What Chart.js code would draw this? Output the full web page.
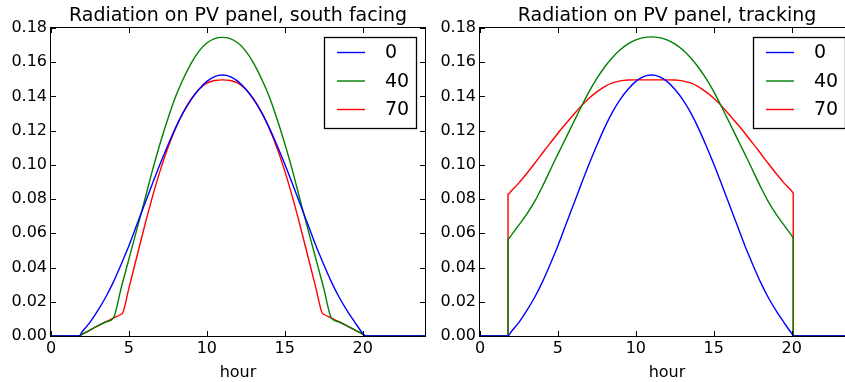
<!DOCTYPE html>
<html>
<head>
<meta charset="utf-8">
<script src="https://cdn.jsdelivr.net/npm/chart.js@4.4.1/dist/chart.umd.min.js"></script>
<style>
  html, body { margin: 0; padding: 0; background: #fff; }
  body { width: 845px; height: 382px; overflow: hidden; position: relative; }
  canvas { position: absolute; top: 0; }
  #south { left: 0; }
  #track { left: 429px; }
</style>
</head>
<body>
<canvas id="south" width="440" height="382"></canvas>
<canvas id="track" width="440" height="382"></canvas>
<script>
// hour of day (x); sunrise / sunset hours appear twice so the tracking curves jump straight up
const hours = [0, 1.8, 1.8, 2, 2.5, 3, 3.5, 4, 4.5, 4.6, 5, 5.5, 6, 6.5, 7, 7.5, 8, 8.5, 9, 9.5, 10, 10.5, 11,
  11.5, 12, 12.5, 13, 13.5, 14, 14.5, 15, 15.5, 16, 16.5, 17, 17.4, 17.5, 18, 18.5, 19, 19.5, 20, 20.1, 20.1, 24];

const tilts = ['0', '40', '70'];
const colors = ['#0000ff', '#008000', '#ff0000'];

// tilt 0 (same on both panels)
const flat0 = [0, 0, 0, 0.0025, 0.008, 0.0148, 0.0225, 0.0315, 0.0418, 0.044, 0.0528, 0.0648, 0.0768, 0.0888, 0.1005, 0.1115, 0.1218, 0.1308, 0.1383, 0.1442, 0.1488, 0.1516, 0.1525,
  0.1516, 0.1488, 0.1442, 0.1383, 0.1308, 0.1218, 0.1115, 0.1005, 0.0888, 0.0768, 0.0648, 0.0528, 0.044, 0.0418, 0.0315, 0.0225, 0.0148, 0.008, 0.0015, 0.0004, 0, 0];

// south facing
const south40 = [0, 0, 0, 0.0010, 0.0035, 0.0059, 0.0082, 0.0104, 0.028, 0.0314, 0.045, 0.062, 0.079, 0.0965, 0.1125, 0.127, 0.140, 0.1505, 0.1595, 0.1665, 0.1712, 0.1738, 0.1745,
  0.1738, 0.1712, 0.1665, 0.1595, 0.1505, 0.140, 0.127, 0.1125, 0.0965, 0.079, 0.062, 0.045, 0.0314, 0.028, 0.0104, 0.0082, 0.0059, 0.0035, 0.0011, 0.0004, 0, 0];
const south70 = [0, 0, 0, 0.0010, 0.0035, 0.0059, 0.0082, 0.0104, 0.0127, 0.0134, 0.028, 0.046, 0.064, 0.081, 0.0965, 0.110, 0.1215, 0.131, 0.1385, 0.1442, 0.1478, 0.1493, 0.1497,
  0.1493, 0.1478, 0.1442, 0.1385, 0.131, 0.1215, 0.110, 0.0965, 0.081, 0.064, 0.046, 0.028, 0.0134, 0.0127, 0.0104, 0.0082, 0.0059, 0.0035, 0.0011, 0.0004, 0, 0];

// tracking
const track40 = [0, 0, 0.0565, 0.0588, 0.0649, 0.0712, 0.0785, 0.0873, 0.0968, 0.0988, 0.1063, 0.1155, 0.1248, 0.134, 0.1428, 0.1505, 0.1572, 0.1628, 0.1673, 0.1707, 0.1731, 0.1744, 0.1748,
  0.1744, 0.1731, 0.1707, 0.1673, 0.1628, 0.1572, 0.1505, 0.1428, 0.134, 0.1248, 0.1155, 0.1063, 0.0988, 0.0968, 0.0873, 0.0785, 0.0712, 0.0649, 0.0588, 0.0575, 0, 0];
const track70 = [0, 0, 0.0828, 0.0847, 0.0895, 0.095, 0.1008, 0.1068, 0.1127, 0.1138, 0.1185, 0.124, 0.1293, 0.1345, 0.139, 0.1427, 0.1458, 0.1479, 0.1491, 0.1496, 0.1497, 0.1497, 0.1497,
  0.1497, 0.1497, 0.1496, 0.1491, 0.1479, 0.1458, 0.1427, 0.139, 0.1345, 0.1293, 0.124, 0.1185, 0.1138, 0.1127, 0.1068, 0.1008, 0.095, 0.0895, 0.0847, 0.0835, 0, 0];

const xTicks = [0, 5, 10, 15, 20];
const yTicks = [0, 0.02, 0.04, 0.06, 0.08, 0.10, 0.12, 0.14, 0.16, 0.18];

const fam = '"DejaVu Sans", sans-serif';
Chart.defaults.font.family = fam;
Chart.defaults.color = '#000';

// matplotlib-ish box: spines all round, ticks pointing in
const framePlugin = {
  id: 'frame',
  afterDatasetsDraw(chart) {
    const {ctx, chartArea: a, scales: {x, y}} = chart;
    ctx.save();
    ctx.strokeStyle = '#000';
    ctx.lineWidth = 1;
    ctx.beginPath();
    for (const v of xTicks) {
      const px = Math.round(x.getPixelForValue(v)) + 0.5;
      ctx.moveTo(px, a.bottom); ctx.lineTo(px, a.bottom - 5);
      ctx.moveTo(px, a.top); ctx.lineTo(px, a.top + 5);
    }
    for (const v of yTicks) {
      const py = Math.round(y.getPixelForValue(v)) + 0.5;
      ctx.moveTo(a.left, py); ctx.lineTo(a.left + 5, py);
      ctx.moveTo(a.right, py); ctx.lineTo(a.right - 5, py);
    }
    ctx.stroke();
    ctx.strokeRect(a.left - 0.5, a.top - 0.5, a.right - a.left + 1, a.bottom - a.top + 1);
    ctx.restore();
  }
};

const titlePlugin = {
  id: 'panelTitle',
  afterDraw(chart, args, opts) {
    const {ctx, chartArea: a} = chart;
    ctx.save();
    ctx.font = '19px ' + fam;
    ctx.fillStyle = '#000';
    ctx.textAlign = 'center';
    ctx.textBaseline = 'alphabetic';
    ctx.fillText(opts.text, (a.left + a.right) / 2, a.top - 7);
    ctx.restore();
  }
};

const legendPlugin = {
  id: 'boxLegend',
  afterDraw(chart) {
    const {ctx, chartArea: a} = chart;
    const w = 92, h = 91;
    const bx = Math.round(a.right - 9 - w), by = Math.round(a.top + 9);
    ctx.save();
    ctx.fillStyle = '#fff';
    ctx.fillRect(bx, by, w, h);
    ctx.lineWidth = 1.3;
    ctx.strokeStyle = '#000';
    ctx.strokeRect(bx + 0.5, by + 0.5, w, h);
    ctx.font = '19px ' + fam;
    ctx.textBaseline = 'middle';
    chart.data.datasets.forEach((ds, i) => {
      const ry = by + 15.5 + i * 28.5;
      ctx.strokeStyle = ds.borderColor;
      ctx.lineWidth = 1.4;
      ctx.beginPath();
      ctx.moveTo(bx + 13, ry);
      ctx.lineTo(bx + 41, ry);
      ctx.stroke();
      ctx.fillStyle = '#000';
      ctx.fillText(ds.label, bx + 61, ry + 1);
    });
    ctx.restore();
  }
};

function drawPanel(id, title, series) {
  new Chart(document.getElementById(id), {
    type: 'line',
    data: {
      datasets: series.map((vals, i) => ({
        label: tilts[i],
        data: hours.map((h, k) => ({x: h, y: vals[k]})),
        borderColor: colors[i],
        borderWidth: 1.4,
        pointRadius: 0,
        cubicInterpolationMode: 'monotone',
        fill: false,
        clip: false
      }))
    },
    options: {
      responsive: false,
      animation: false,
      devicePixelRatio: 1,
      layout: {padding: {top: 28, right: 15, left: 0, bottom: 0}},
      plugins: {
        legend: {display: false},
        tooltip: {enabled: false},
        panelTitle: {text: title}
      },
      scales: {
        x: {
          type: 'linear', min: 0, max: 24,
          grid: {display: false, drawTicks: false},
          border: {display: false},
          afterBuildTicks: s => { s.ticks = xTicks.map(v => ({value: v})); },
          afterFit: s => { s.height = 46; },
          ticks: {padding: 3.5, font: {size: 16}, maxRotation: 0, autoSkip: false, callback: v => String(v)},
          title: {display: true, text: 'hour', font: {size: 16}, padding: 0}
        },
        y: {
          min: 0, max: 0.18,
          grid: {display: false, drawTicks: false},
          border: {display: false},
          afterBuildTicks: s => { s.ticks = yTicks.map(v => ({value: v})); },
          afterFit: s => { s.width = 51; },
          ticks: {padding: 4, font: {size: 16}, autoSkip: false, callback: v => v.toFixed(2)}
        }
      }
    },
    plugins: [framePlugin, titlePlugin, legendPlugin]
  });
}

drawPanel('south', 'Radiation on PV panel, south facing', [flat0, south40, south70]);
drawPanel('track', 'Radiation on PV panel, tracking', [flat0, track40, track70]);
</script>
</body>
</html>
